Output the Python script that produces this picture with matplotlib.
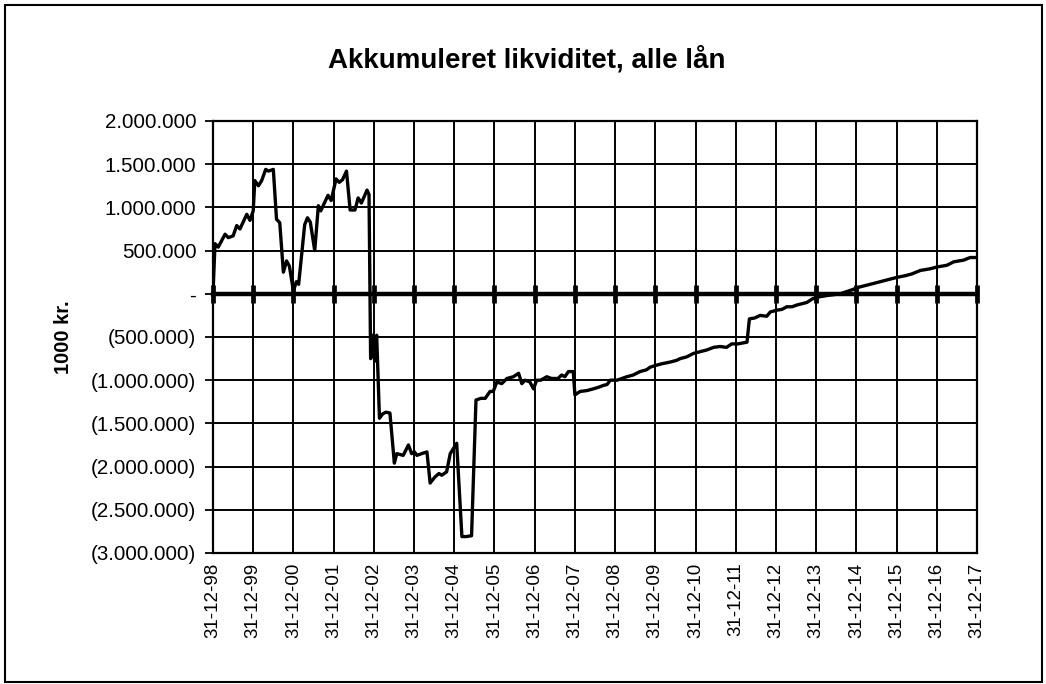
import matplotlib
matplotlib.use("Agg")
import matplotlib.pyplot as plt
from matplotlib.patches import Rectangle
from matplotlib.ticker import FuncFormatter, MultipleLocator

plt.rcParams['font.family'] = ['Liberation Sans', 'DejaVu Sans']

title = "Akkumuleret likviditet, alle lån"
ylabel = "1000 kr."
tick_labels = ["31-12-98", "31-12-99", "31-12-00", "31-12-01", "31-12-02", "31-12-03",
               "31-12-04", "31-12-05", "31-12-06", "31-12-07", "31-12-08", "31-12-09",
               "31-12-10", "31-12-11", "31-12-12", "31-12-13", "31-12-14", "31-12-15",
               "31-12-16", "31-12-17"]

# time in years after 31-12-98
t = [0.00, 0.05, 0.13, 0.30, 0.38, 0.50, 0.59, 0.67, 0.84, 0.92, 1.00, 1.04, 1.13, 1.21,
     1.31, 1.38, 1.50, 1.58, 1.66, 1.75, 1.83, 1.90, 2.00, 2.07, 2.13, 2.28, 2.35, 2.42,
     2.53, 2.62, 2.68, 2.76, 2.86, 2.94, 3.06, 3.14, 3.22, 3.32, 3.41, 3.53, 3.61, 3.69,
     3.83, 3.88, 3.92, 3.97, 4.02, 4.07, 4.14, 4.22, 4.30, 4.40, 4.51, 4.57, 4.73, 4.86,
     4.94, 5.01, 5.07, 5.19, 5.32, 5.40, 5.52, 5.62, 5.69, 5.81, 5.90, 5.98, 6.06, 6.19,
     6.30, 6.43, 6.54, 6.66, 6.77, 6.89, 6.97, 7.06, 7.18, 7.31, 7.47, 7.60, 7.68, 7.76,
     7.88, 7.97, 8.05, 8.15, 8.30, 8.42, 8.58, 8.67, 8.75, 8.84, 8.96, 9.00, 9.13, 9.30,
     9.46, 9.60, 9.71, 9.80, 9.88, 10.05, 10.17, 10.29, 10.45, 10.62, 10.78, 10.87, 11.00,
     11.16, 11.37, 11.53, 11.62, 11.78, 11.95, 12.11, 12.28, 12.45, 12.61, 12.77, 12.90,
     13.05, 13.28, 13.34, 13.47, 13.61, 13.77, 13.86, 14.02, 14.15, 14.27, 14.40, 14.52,
     14.68, 14.77, 14.90, 15.02, 15.27, 15.60, 15.85, 16.09, 16.26, 16.43, 16.67, 16.84,
     17.01, 17.22, 17.38, 17.59, 17.84, 18.00, 18.25, 18.42, 18.67, 18.83, 18.99]

likviditet = [0, 580000, 540000, 690000, 650000, 670000, 790000, 750000, 920000, 850000,
              960000, 1310000, 1250000, 1310000, 1440000, 1420000, 1440000, 862000, 824000,
              250000, 380000, 320000, 30000, 140000, 110000, 800000, 880000, 830000, 500000,
              1020000, 960000, 1040000, 1140000, 1080000, 1330000, 1290000, 1320000, 1420000,
              970000, 970000, 1110000, 1050000, 1200000, 1150000, -750000, -480000, -780000,
              -480000, -1440000, -1390000, -1370000, -1380000, -1960000, -1850000, -1870000,
              -1750000, -1850000, -1830000, -1870000, -1850000, -1830000, -2190000, -2120000,
              -2080000, -2100000, -2060000, -1850000, -1790000, -1730000, -2810000, -2810000,
              -2800000, -1230000, -1210000, -1210000, -1130000, -1130000, -1020000, -1040000,
              -980000, -960000, -920000, -1040000, -1000000, -1020000, -1100000, -1000000,
              -1000000, -960000, -980000, -980000, -940000, -960000, -900000, -900000,
              -1170000, -1130000, -1120000, -1100000, -1080000, -1060000, -1050000, -1000000,
              -1000000, -980000, -960000, -940000, -900000, -880000, -850000, -830000,
              -810000, -790000, -770000, -750000, -730000, -690000, -670000, -650000,
              -620000, -610000, -620000, -580000, -580000, -560000, -290000, -280000,
              -250000, -260000, -210000, -190000, -180000, -150000, -150000, -130000,
              -110000, -100000, -60000, -40000, -20000, 0, 40000, 80000, 100000, 120000,
              150000, 170000, 190000, 210000, 230000, 270000, 290000, 310000, 330000, 370000,
              390000, 420000, 420000]

years = list(range(len(tick_labels)))
baseline = [0] * len(years)


def acct(v, pos):
    if abs(v) < 1:
        return "-"
    s = f"{abs(int(round(v))):,}".replace(",", ".")
    return f"({s})" if v < 0 else s


fig = plt.figure(figsize=(10.46, 6.84), dpi=100)
fig.patches.append(Rectangle((5 / 1046, 2 / 684), 1037 / 1046, 677 / 684,
                             transform=fig.transFigure, fill=False,
                             edgecolor='black', linewidth=1.5))

ax = fig.add_axes([213 / 1046, 1 - 553 / 684, 764 / 1046, 432 / 684])
ax.set_xlim(0, 19)
ax.set_ylim(-3000000, 2000000)
ax.yaxis.set_major_locator(MultipleLocator(500000))
ax.yaxis.set_major_formatter(FuncFormatter(acct))
ax.set_xticks(years)
ax.set_xticklabels(tick_labels, rotation=90, fontsize=13.5)
ax.tick_params(axis='x', length=0, pad=7)
ax.tick_params(axis='y', length=6, width=1.3, direction='out', pad=6, labelsize=14.8)
ax.grid(True, color='black', linewidth=1.4)
ax.set_axisbelow(True)
for sp in ax.spines.values():
    sp.set_linewidth(1.6)

ax.plot(years, baseline, color='black', linewidth=3.2, marker='|', markersize=13,
        markeredgewidth=3.4, clip_on=False, zorder=3)
ax.plot(t, likviditet, color='black', linewidth=2.4, zorder=4)

ax.set_ylabel(ylabel, fontsize=14.5, fontweight='bold')
ax.yaxis.set_label_coords(-0.183, 0.5)

fig.text(527 / 1046, 1 - 60 / 684, title, ha='center', va='center',
         fontsize=20, fontweight='bold')

fig.savefig("out.png", dpi=100)
